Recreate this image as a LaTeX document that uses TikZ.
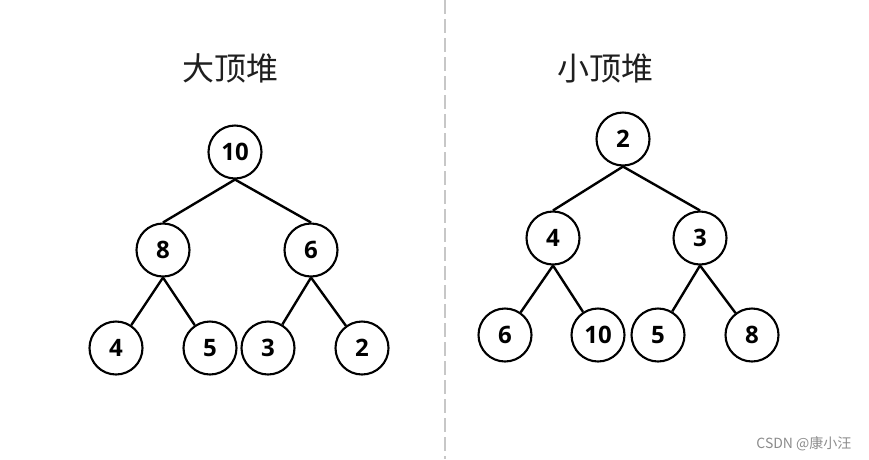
\documentclass[tikz,border=0pt]{standalone}
\usepackage{fontspec}
\newfontfamily\numfont{Open Sans}
\newfontfamily\cjk{Noto Sans CJK SC}
\begin{document}
\begin{tikzpicture}[x=1pt,y=-1pt,
  hnode/.style={circle,draw=black,line width=2.1pt,minimum size=53pt,inner sep=0pt,
    font=\numfont\bfseries\fontsize{24}{24}\selectfont},
  link/.style={draw=black,line width=2.4pt},
  titletext/.style={font=\cjk\fontsize{32}{32}\selectfont,text=black!88},
  wmark/.style={font=\cjk\fontsize{14}{14}\selectfont,text=black!45}]
\useasboundingbox (0,0) rectangle (869,459);
\fill[white] (0,0) rectangle (869,459);
% divider
\coordinate (dtop) at (445,0);
\coordinate (dbot) at (445,459);
\draw[black!22,line width=2pt,dash pattern=on 14pt off 5pt] (dtop) -- (dbot);
% titles
\node[titletext] (t1) at (230,68) {大顶堆};
\node[titletext] (t2) at (605,68) {小顶堆};
% max heap
\node[hnode] (a10) at (235,152) {10};
\node[hnode] (a8) at (163,250) {8};
\node[hnode] (a6) at (311,250) {6};
\node[hnode] (a4) at (116,348) {4};
\node[hnode] (a5) at (210,348) {5};
\node[hnode] (a3) at (268,348) {3};
\node[hnode] (a2) at (362,348) {2};
\draw[link] (a10.south) -- (a8.north);
\draw[link] (a10.south) -- (a6.north);
\draw[link] (a8.south) -- (a4);
\draw[link] (a8.south) -- (a5);
\draw[link] (a6.south) -- (a3);
\draw[link] (a6.south) -- (a2);
% min heap
\node[hnode] (b2) at (623,139) {2};
\node[hnode] (b4) at (553,238) {4};
\node[hnode] (b3) at (700,238) {3};
\node[hnode] (b6) at (505,335) {6};
\node[hnode] (b10) at (598,335) {10};
\node[hnode] (b5) at (658,335) {5};
\node[hnode] (b8) at (752,335) {8};
\draw[link] (b2.south) -- (b4.north);
\draw[link] (b2.south) -- (b3.north);
\draw[link] (b4.south) -- (b6);
\draw[link] (b4.south) -- (b10);
\draw[link] (b3.south) -- (b5);
\draw[link] (b3.south) -- (b8);
% watermark
\node[wmark,anchor=east] (wm) at (855,444) {CSDN @康小汪};
\end{tikzpicture}
\end{document}
